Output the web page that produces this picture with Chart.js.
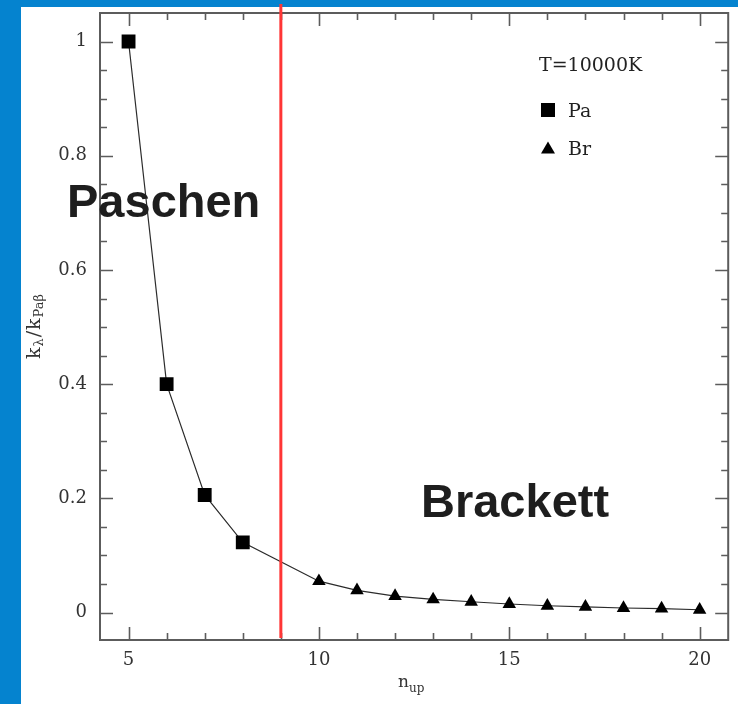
<!DOCTYPE html>
<html>
<head>
<meta charset="utf-8">
<script src="https://cdn.jsdelivr.net/npm/chart.js@4/dist/chart.umd.min.js"></script>
<style>
  html, body { margin: 0; padding: 0; background: #ffffff; }
  #wrap { position: relative; width: 738px; height: 704px; }
</style>
</head>
<body>
<div id="wrap"><canvas id="chart" width="738" height="704"></canvas></div>
<script>
// Upper level n of the transition, and opacity relative to Pa-beta
const paLevels = [5, 6, 7, 8];
const paValues = [1.0, 0.400, 0.206, 0.123];
const brLevels = [10, 11, 12, 13, 14, 15, 16, 17, 18, 19, 20];
const brValues = [0.055, 0.039, 0.029, 0.023, 0.019, 0.015, 0.012, 0.010, 0.008, 0.007, 0.005];

// Axis ticks
const xMajorTicks = [5, 10, 15, 20];
const xMinorTicks = [5, 6, 7, 8, 9, 10, 11, 12, 13, 14, 15, 16, 17, 18, 19, 20];
const yMajorTicks = [0, 0.2, 0.4, 0.6, 0.8, 1];
const yTickLabels = ['0', '0.2', '0.4', '0.6', '0.8', '1'];
const yMinorTicks = [0, 0.05, 0.1, 0.15, 0.2, 0.25, 0.3, 0.35, 0.4, 0.45, 0.5, 0.55,
                     0.6, 0.65, 0.7, 0.75, 0.8, 0.85, 0.9, 0.95, 1.0];

// Series boundary and annotations
const boundaryLevel = 9;
const temperatureLabel = 'T=10000K';
const seriesNames = ['Pa', 'Br'];
const regionNames = ['Paschen', 'Brackett'];

const SERIF = '"DejaVu Serif", serif';
const INK = '#333333';
const FRAME = '#5c5c5c';

const paPoints = paLevels.map((n, i) => ({ x: n, y: paValues[i] }));
const brPoints = brLevels.map((n, i) => ({ x: n, y: brValues[i] }));
const curvePoints = paPoints.concat(brPoints);

// Draws page border, boxed frame with inward ticks, boundary line, labels
const decorations = {
  id: 'decorations',
  beforeDraw(chart) {
    const c = chart.ctx;
    c.save();
    c.fillStyle = '#ffffff';
    c.fillRect(0, 0, chart.width, chart.height);
    c.fillStyle = '#0583cf';
    c.fillRect(0, 0, 21, chart.height);
    c.fillRect(0, 0, chart.width, 7);
    c.restore();
  },
  beforeDatasetsDraw(chart) {
    const c = chart.ctx;
    const a = chart.chartArea;
    const xs = chart.scales.x, ys = chart.scales.y;
    c.save();
    c.strokeStyle = FRAME;
    c.lineWidth = 2;
    c.strokeRect(a.left, a.top, a.right - a.left, a.bottom - a.top);
    c.lineWidth = 1.6;
    c.beginPath();
    xMinorTicks.forEach(v => {
      const len = xMajorTicks.includes(v) ? 13 : 7;
      const px = Math.round(xs.getPixelForValue(v)) + 0.5;
      c.moveTo(px, a.bottom); c.lineTo(px, a.bottom - len);
      c.moveTo(px, a.top); c.lineTo(px, a.top + len);
    });
    yMinorTicks.forEach(v => {
      const len = yMajorTicks.some(m => Math.abs(m - v) < 1e-9) ? 13 : 7;
      const py = Math.round(ys.getPixelForValue(v)) + 0.5;
      c.moveTo(a.left, py); c.lineTo(a.left + len, py);
      c.moveTo(a.right, py); c.lineTo(a.right - len, py);
    });
    c.stroke();
    c.restore();
  },
  afterDatasetsDraw(chart) {
    const c = chart.ctx;
    const a = chart.chartArea;
    const px = chart.scales.x.getPixelForValue(boundaryLevel);
    c.save();
    c.strokeStyle = '#ff3636';
    c.lineWidth = 3;
    c.beginPath();
    c.moveTo(px, 4);
    c.lineTo(px, a.bottom - 2);
    c.stroke();
    c.restore();
  },
  afterDraw(chart) {
    const c = chart.ctx;
    c.save();

    // Region names
    c.fillStyle = '#1e1e1e';
    c.font = 'bold 47px "Liberation Sans", Arial, sans-serif';
    c.textAlign = 'left';
    c.textBaseline = 'alphabetic';
    c.fillText(regionNames[0], 67, 217);
    c.fillText(regionNames[1], 421, 517);

    // Legend
    c.fillStyle = '#222222';
    c.font = '19px ' + SERIF;
    c.fillText(temperatureLabel, 539, 71);
    c.fillText(seriesNames[0], 568, 117);
    c.fillText(seriesNames[1], 568, 155);
    c.fillStyle = '#000000';
    c.fillRect(541, 103, 14, 14);
    c.beginPath();
    c.moveTo(548, 141.5);
    c.lineTo(555, 153.5);
    c.lineTo(541, 153.5);
    c.closePath();
    c.fill();

    // Y axis title: k_lambda / k_Pa-beta
    const yParts = [
      { t: 'k', size: 19, dy: 0 },
      { t: 'λ', size: 13, dy: 5 },
      { t: '/', size: 19, dy: 0 },
      { t: 'k', size: 19, dy: 0 },
      { t: 'Paβ', size: 13, dy: 5 }
    ];
    c.fillStyle = INK;
    c.translate(35, 326);
    c.rotate(-Math.PI / 2);
    let total = 0;
    yParts.forEach(p => { c.font = p.size + 'px ' + SERIF; p.w = c.measureText(p.t).width + 1; total += p.w; });
    let cx = -total / 2;
    c.textBaseline = 'middle';
    yParts.forEach(p => {
      c.font = p.size + 'px ' + SERIF;
      c.fillText(p.t, cx, p.dy);
      cx += p.w;
    });
    c.setTransform(1, 0, 0, 1, 0, 0);

    // X axis title: n_up
    c.textBaseline = 'middle';
    c.font = '17px ' + SERIF;
    c.fillText('n', 398, 683);
    c.font = '12px ' + SERIF;
    c.fillText('up', 409, 689);

    c.restore();
  }
};

new Chart(document.getElementById('chart'), {
  type: 'scatter',
  data: {
    datasets: [
      {
        label: 'curve',
        data: curvePoints,
        showLine: true,
        borderColor: '#2b2b2b',
        borderWidth: 1.2,
        pointRadius: 0,
        order: 3
      },
      {
        label: seriesNames[0],
        data: paPoints,
        pointStyle: 'rect',
        pointRadius: 9.8,
        backgroundColor: '#000000',
        borderColor: '#000000',
        borderWidth: 0,
        order: 1
      },
      {
        label: seriesNames[1],
        data: brPoints,
        pointStyle: 'triangle',
        pointRadius: 7.8,
        backgroundColor: '#000000',
        borderColor: '#000000',
        borderWidth: 0,
        order: 2
      }
    ]
  },
  options: {
    responsive: false,
    animation: false,
    events: [],
    layout: { padding: { left: 21, top: 13, right: 9, bottom: 0 } },
    plugins: { legend: { display: false }, tooltip: { enabled: false } },
    scales: {
      x: {
        type: 'linear',
        min: 4.25,
        max: 20.75,
        afterFit(s) { s.height = 64; s.paddingLeft = 0; s.paddingRight = 0; },
        afterBuildTicks(s) { s.ticks = xMajorTicks.map(v => ({ value: v })); },
        grid: { display: false, drawTicks: false },
        border: { display: false },
        ticks: { color: INK, font: { family: SERIF, size: 18 }, padding: 10, maxRotation: 0, autoSkip: false }
      },
      y: {
        type: 'linear',
        min: -0.048,
        max: 1.05,
        afterFit(s) { s.width = 79; s.paddingTop = 0; s.paddingBottom = 0; },
        afterBuildTicks(s) { s.ticks = yMajorTicks.map(v => ({ value: v })); },
        grid: { display: false, drawTicks: false },
        border: { display: false },
        ticks: {
          color: INK, font: { family: SERIF, size: 18 }, padding: 13, autoSkip: false,
          callback(value, index) { return yTickLabels[index]; }
        }
      }
    }
  },
  plugins: [decorations]
});
</script>
</body>
</html>
